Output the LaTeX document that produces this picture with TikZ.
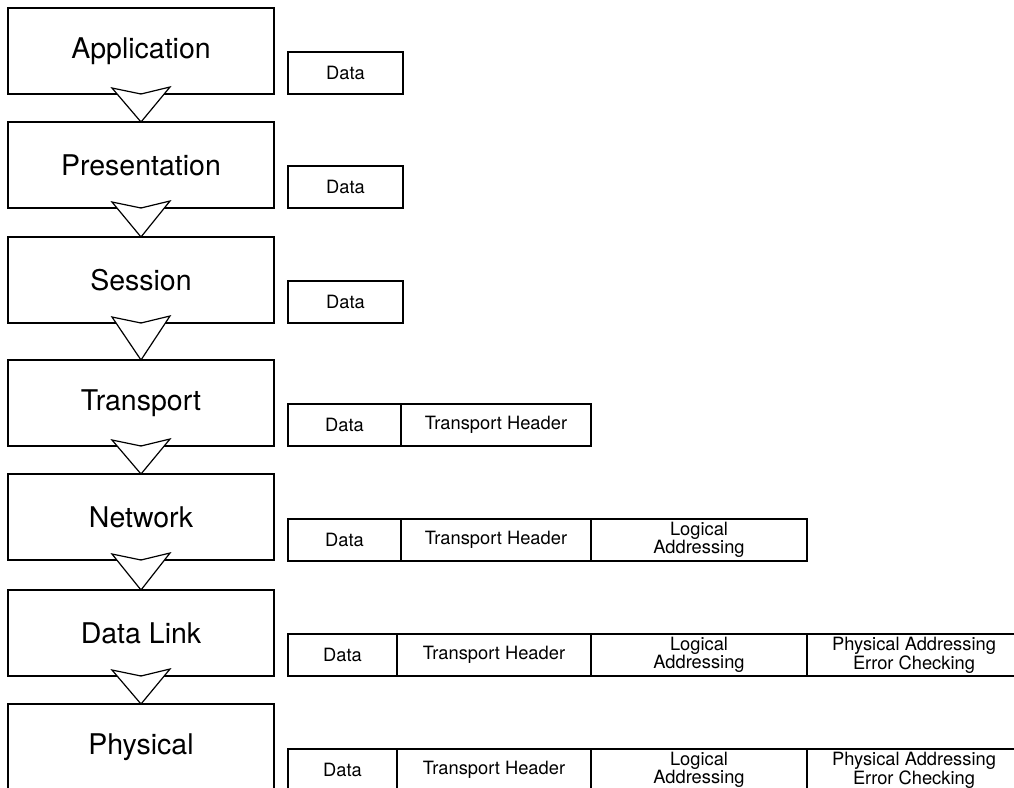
\documentclass[tikz,border=0pt]{standalone}
\usepackage{fontspec}
\setmainfont{TeX Gyre Heros}
\usetikzlibrary{calc, positioning}

\tikzset{
	layer/.style={draw, line width=1.2pt, anchor=north west, outer sep=0pt,
		minimum width=266pt, minimum height=86pt, font=\fontsize{28.5}{30}\selectfont},
	cell/.style={draw, line width=1.2pt, anchor=north west, outer sep=0pt, align=center,
		minimum height=42pt, inner sep=0pt, font=\fontsize{18.3}{16.5}\selectfont},
	chev/.style={draw, fill=white, line width=1.2pt, line join=miter}
}

\begin{document}
\begin{tikzpicture}[x=1pt, y=-1pt]
			\useasboundingbox (0,0) rectangle (1014,787);

			% the seven layers
			\foreach \name/\txt/\y in {app/Application/8, pre/Presentation/122, ses/Session/237,
				tra/Transport/360, net/Network/474, dl/Data Link/590, phy/Physical/704}
				\node [layer] (\name) at (8,\y) {\txt};

			% arrows between layers
			\foreach \a/\b in {app/pre, pre/ses, ses/tra, tra/net, net/dl, dl/phy}
				\draw [chev] ($(\a.south)+(-29,-6)$) -- (\a.south) -- ($(\a.south)+(29,-7)$) -- (\b.north) -- cycle;

			% data units
			\node [cell, minimum width=115pt] (appd) at (288,52) {Data};
			\node [cell, minimum width=115pt] (pred) at (288,166) {Data};
			\node [cell, minimum width=115pt] (sesd) at (288,281) {Data};

			\node [cell, minimum width=113pt] (trad) at (288,404) {Data};
			\node [cell, minimum width=190pt, right=0pt of trad] (trah) {Transport Header};

			\node [cell, minimum width=113pt] (netd) at (288,519) {Data};
			\node [cell, minimum width=190pt, right=0pt of netd] (neth) {Transport Header};
			\node [cell, minimum width=216pt, right=0pt of neth] (netl) {Logical\\Addressing};

			\node [cell, minimum width=109pt] (dld) at (288,634) {Data};
			\node [cell, minimum width=194pt, right=0pt of dld] (dlh) {Transport Header};
			\node [cell, minimum width=216pt, right=0pt of dlh] (dll) {Logical\\Addressing};
			\node [cell, minimum width=214pt, right=0pt of dll] (dlp) {Physical Addressing\\Error Checking};

			\node [cell, minimum width=109pt] (phyd) at (288,749) {Data};
			\node [cell, minimum width=194pt, right=0pt of phyd] (phyh) {Transport Header};
			\node [cell, minimum width=216pt, right=0pt of phyh] (phyl) {Logical\\Addressing};
			\node [cell, minimum width=214pt, right=0pt of phyl] (phyp) {Physical Addressing\\Error Checking};
		\end{tikzpicture}
\end{document}
